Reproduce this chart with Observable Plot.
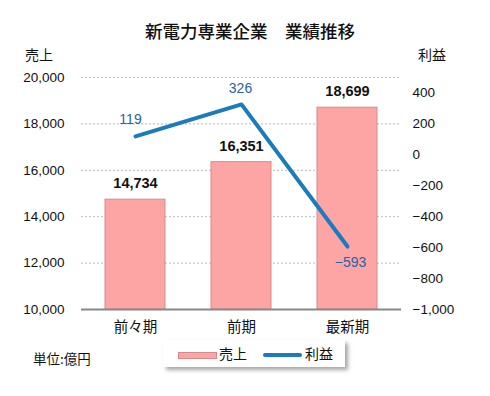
<!DOCTYPE html>
<html><head><meta charset="utf-8">
<script src="https://cdn.jsdelivr.net/npm/d3@7"></script>
<script src="https://cdn.jsdelivr.net/npm/@observablehq/plot@0.6"></script>
<style>
body{margin:0;background:#fff;font-family:"Liberation Sans","Noto Sans CJK JP",sans-serif;}
#wrap{position:relative;width:490px;height:396px;overflow:hidden;}
.t{position:absolute;font-family:"Noto Sans CJK JP",sans-serif;color:#111;white-space:nowrap;}
#legend{position:absolute;left:163px;top:340px;width:182px;height:27px;background:#fff;box-shadow:3px 3px 4px rgba(0,0,0,0.35);}
</style></head><body>
<div id="wrap"></div>
<script>
const periods = ["前々期","前期","最新期"];
const sales = [14734, 16351, 18699];
const profit = [119, 326, -593];
const salesTicks = [10000,12000,14000,16000,18000,20000];
const profitTicks = [-1000,-800,-600,-400,-200,0,200,400];

const sMin = 10000, sMax = 20000, pMin = -1000, pMax = 500;
const toS = p => sMin + (p - pMin) * (sMax - sMin) / (pMax - pMin);
const fmt = d3.format(",");
const fmtM = v => fmt(v).replace("-", "−");

const data = periods.map((k,i)=>({k, s: sales[i], p: profit[i], ps: toS(profit[i])}));
const labelStyle = {x: "k", y: "ps", text: d => fmtM(d.p), fill: "#2a62a8", fontSize: 14};

const chart = Plot.plot({
  width: 490, height: 396,
  marginTop: 77, marginBottom: 87, marginLeft: 81, marginRight: 89,
  style: {fontFamily: '"Liberation Sans","Noto Sans CJK JP",sans-serif', fontSize: "13px", color: "#111", background: "#fff"},
  x: {domain: periods, paddingInner: 0.434, paddingOuter: 0.226, label: null},
  y: {domain: [sMin, sMax], label: null},
  marks: [
    Plot.ruleY(salesTicks.filter(d=>d>sMin), {stroke: "#bbb", strokeDasharray: "2,2", strokeWidth: 1}),
    Plot.barY(data, {x: "k", y1: sMin, y2: "s", fill: "#fca5a4", stroke: "#d88a8a", strokeWidth: 1}),
    Plot.ruleY([sMin], {stroke: "#888", strokeWidth: 2}),
    Plot.axisY({ticks: salesTicks, tickFormat: fmt, tickSize: 0, tickPadding: 17, fontSize: 13.5, label: null}),
    Plot.axisY({anchor: "right", ticks: profitTicks.map(toS), tickFormat: v => fmtM(Math.round((v - sMin) * (pMax - pMin) / (sMax - sMin) + pMin)), tickSize: 0, tickPadding: 11, fontSize: 13.5, label: null}),
    Plot.axisX({tickSize: 0, tickPadding: 12, fontSize: 14.5, fontFamily: '"Noto Sans CJK JP",sans-serif', label: null}),
    Plot.text(data, {x: "k", y: "s", text: d => fmt(d.s), dy: -16, fontWeight: "bold", fontSize: 14.5, fill: "#111"}),
    Plot.line(data, {x: "k", y: "ps", stroke: "#1b7bbd", strokeWidth: 4}),
    Plot.text(data.filter(d => d.k === periods[0]), {...labelStyle, dx: -5, dy: -17}),
    Plot.text(data.filter(d => d.k === periods[1]), {...labelStyle, dx: -1, dy: -16}),
    Plot.text(data.filter(d => d.k === periods[2]), {...labelStyle, dx: 3, dy: 16})
  ]
});
const wrap = document.getElementById("wrap");
wrap.appendChild(chart);
chart.style.position = "absolute"; chart.style.left = "0"; chart.style.top = "0";

function addText(txt, left, top, size, extra) {
  const d = document.createElement("div");
  d.className = "t"; d.textContent = txt;
  d.style.left = left + "px"; d.style.top = top + "px"; d.style.fontSize = size + "px";
  if (extra) Object.assign(d.style, extra);
  wrap.appendChild(d);
  return d;
}
addText("新電力専業企業　業績推移", 145, 18, 17.5, {fontWeight: "500"});
addText("売上", 25, 44, 14);
addText("利益", 418, 44, 14);
addText("単位:億円", 33, 348, 13.5);

const lg = document.createElement("div"); lg.id = "legend"; wrap.appendChild(lg);
const sw = document.createElement("div");
Object.assign(sw.style, {position:"absolute", left:"15px", top:"12px", width:"37px", height:"5px", background:"#fca5a4", border:"1px solid #d88a8a"});
lg.appendChild(sw);
const ln = document.createElement("div");
Object.assign(ln.style, {position:"absolute", left:"100px", top:"13px", width:"39px", height:"4px", background:"#1b7bbd", borderRadius:"2px"});
lg.appendChild(ln);
const l1 = document.createElement("div"); l1.className="t"; l1.textContent="売上";
Object.assign(l1.style,{left:"56px", top:"3px", fontSize:"14px"}); lg.appendChild(l1);
const l2 = document.createElement("div"); l2.className="t"; l2.textContent="利益";
Object.assign(l2.style,{left:"142px", top:"3px", fontSize:"14px"}); lg.appendChild(l2);
</script>
</body></html>
